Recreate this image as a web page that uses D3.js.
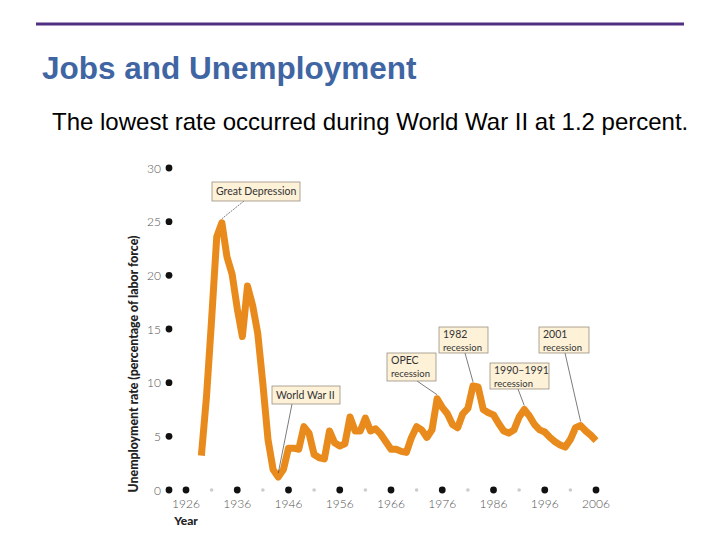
<!DOCTYPE html>
<html><head><meta charset="utf-8">
<script src="https://cdn.jsdelivr.net/npm/d3@7"></script>
<style>body{margin:0;background:#fff}svg{display:block}</style>
</head><body><svg id="c" width="720" height="540"></svg>
<script>
const years = [1929,1930,1931,1932,1933,1934,1935,1936,1937,1938,1939,1940,1941,1942,1943,1944,1945,1946,1947,1948,1949,1950,1951,1952,1953,1954,1955,1956,1957,1958,1959,1960,1961,1962,1963,1964,1965,1966,1967,1968,1969,1970,1971,1972,1973,1974,1975,1976,1977,1978,1979,1980,1981,1982,1983,1984,1985,1986,1987,1988,1989,1990,1991,1992,1993,1994,1995,1996,1997,1998,1999,2000,2001,2002,2003,2004,2005,2006];
const rates = [3.2,8.7,15.9,23.6,24.9,21.7,20.1,16.9,14.3,19.0,17.2,14.6,9.9,4.7,1.9,1.2,1.9,3.9,3.9,3.8,5.9,5.3,3.3,3.0,2.9,5.5,4.4,4.1,4.3,6.8,5.5,5.5,6.7,5.5,5.7,5.2,4.5,3.8,3.8,3.6,3.5,4.9,5.9,5.6,4.9,5.6,8.5,7.7,7.1,6.1,5.8,7.1,7.6,9.7,9.6,7.5,7.2,7.0,6.2,5.5,5.3,5.6,6.8,7.5,6.9,6.1,5.6,5.4,4.9,4.5,4.2,4.0,4.7,5.8,6.0,5.5,5.1,4.6];
const yTicks = [0,5,10,15,20,25,30];
const xTicks = [1926,1936,1946,1956,1966,1976,1986,1996,2006];
const xMinorTicks = [1931,1941,1951,1961,1971,1981,1991,2001];
const annLabels = [["Great Depression"],["World War II"],["OPEC","recession"],["1982","recession"],["1990–1991","recession"],["2001","recession"]];
const annTargets = [[1933,24.9],[1944,1.2],[1975,8.5],[1982,9.7],[1992,7.5],[2003,6.0]];
// box layout (pixels): x, y, w, h, leader start x
const annBoxes = [[212,182,88,19,244],[272,386,68,18,292],[387,353,49,28,417],[439,327,49,26,465],[490,363,59,26,518],[539,327,50,26,565]];

const svg = d3.select("#c");
const x = d3.scaleLinear().domain([1926,2006]).range([186,596]);
const y = d3.scaleLinear().domain([0,30]).range([490,168]);

svg.append("line").attr("x1",36).attr("x2",684).attr("y1",24).attr("y2",24)
  .attr("stroke","#4e2f82").attr("stroke-width",3);
svg.append("text").attr("x",42).attr("y",79).text("Jobs and Unemployment")
  .attr("font-family","Liberation Sans, Arial, sans-serif").attr("font-weight","bold")
  .attr("font-size",31.5).attr("fill","#4065a3");
svg.append("text").attr("x",52).attr("y",130).text("The lowest rate occurred during World War II at 1.2 percent.")
  .attr("font-family","Liberation Sans, Arial, sans-serif").attr("font-size",24).attr("fill","#000");

const lf = "Lato, 'DejaVu Sans', sans-serif";
// y axis
const yax = svg.append("g");
yax.selectAll("circle").data(yTicks).join("circle")
  .attr("cx",169).attr("cy",d=>y(d)).attr("r",3.4).attr("fill","#111");
yax.selectAll("text").data(yTicks).join("text")
  .attr("x",161).attr("y",d=>y(d)+4.5).attr("text-anchor","end").text(d=>d)
  .attr("font-family",lf).attr("font-size",12).attr("fill","#555").attr("font-weight",300);
// x axis
const xax = svg.append("g");
xax.selectAll("circle.maj").data(xTicks).join("circle").attr("class","maj")
  .attr("cx",d=>x(d)).attr("cy",490).attr("r",3.4).attr("fill","#111");
xax.selectAll("circle.min").data(xMinorTicks).join("circle").attr("class","min")
  .attr("cx",d=>x(d)).attr("cy",490).attr("r",1.8).attr("fill","#ccc");
xax.selectAll("text").data(xTicks).join("text")
  .attr("x",d=>x(d)).attr("y",508).attr("text-anchor","middle").text(d=>d)
  .attr("font-family",lf).attr("font-size",12).attr("fill","#555").attr("font-weight",300);

svg.append("text").attr("x",186).attr("y",525).attr("text-anchor","middle").text("Year")
  .attr("font-family",lf).attr("font-weight","900").attr("font-size",12).attr("fill","#222");
svg.append("text").attr("transform","translate(138,364) rotate(-90)").attr("text-anchor","middle")
  .text("Unemployment rate (percentage of labor force)")
  .attr("font-family",lf).attr("font-weight","900").attr("font-size",12.3).attr("fill","#222");

// line
const data = years.map((d,i)=>[d,rates[i]]);
svg.append("path").datum(data)
  .attr("d", d3.line().x(d=>x(d[0])).y(d=>y(d[1])))
  .attr("fill","none").attr("stroke","#e98b1c").attr("stroke-width",7)
  .attr("stroke-linejoin","round").attr("stroke-linecap","butt");

// annotations
annLabels.forEach((lines,i)=>{
  const [bx,by,bw,bh,lx] = annBoxes[i];
  const [ty,tv] = annTargets[i];
  const g = svg.append("g");
  g.append("line").attr("x1",lx).attr("y1",by+bh).attr("x2",x(ty)).attr("y2",y(tv)-4)
    .attr("stroke","#444").attr("stroke-width",0.7).attr("stroke-dasharray", i===0?"2,1":null);
  g.append("rect").attr("x",bx).attr("y",by).attr("width",bw).attr("height",bh)
    .attr("fill","#fdf1d8").attr("stroke","#9a8f80").attr("stroke-width",0.8);
  lines.forEach((t,j)=>{
    g.append("text").attr("x",bx+4).attr("y", lines.length===1 ? by+bh/2+3.6 : by+11+j*12.5)
      .text(t).attr("font-family",lf).attr("font-size", j===0?10.5:9.5).attr("fill","#333");
  });
});
</script></body></html>
